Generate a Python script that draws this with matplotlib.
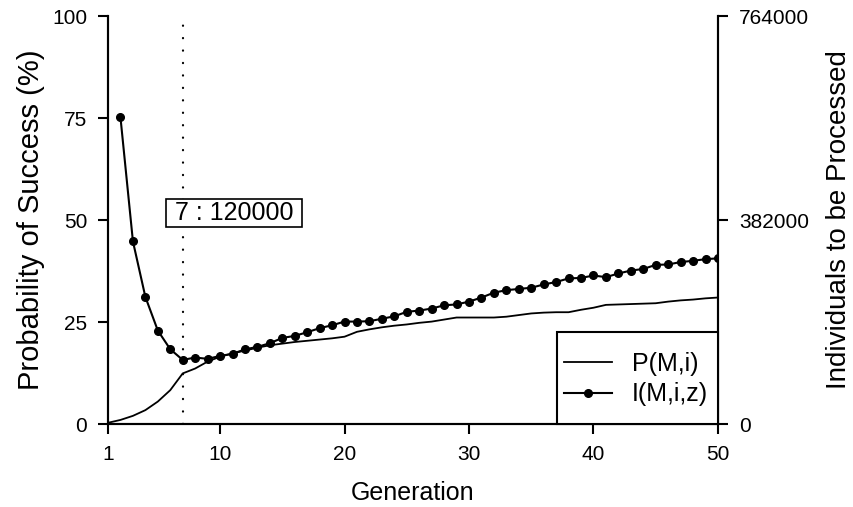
import matplotlib.pyplot as plt
from matplotlib.patches import Rectangle
from matplotlib.lines import Line2D

plt.rcParams["font.family"] = ["Liberation Sans", "DejaVu Sans"]

gen_p = list(range(1, 51))
p_success = [0.3, 1.0, 2.0, 3.4, 5.5, 8.3, 12.4, 13.6, 15.3, 16.5,
             17.3, 18.0, 18.7, 19.3, 19.7, 20.1, 20.4, 20.7, 21.0, 21.4,
             22.6, 23.2, 23.7, 24.1, 24.4, 24.8, 25.1, 25.6, 26.1, 26.1,
             26.1, 26.1, 26.3, 26.7, 27.1, 27.3, 27.4, 27.4, 28.0, 28.5,
             29.2, 29.3, 29.4, 29.5, 29.6, 30.0, 30.3, 30.5, 30.8, 31.0]

gen_i = list(range(2, 51))
individuals = [574000, 342000, 238000, 175000, 140000, 120000, 124500, 122000, 127500,
               131400, 139800, 144400, 151300, 161200, 165000, 171900, 179500, 184900,
               191800, 191800, 192500, 197100, 201700, 210100, 212400, 216200, 222300,
               223900, 229200, 236800, 246000, 250600, 252900, 255200, 261300, 265900,
               272700, 273500, 278100, 275000, 281900, 287300, 290300, 298000, 298700,
               303300, 305600, 308700, 310200]

best_gen = 7
best_ind = 120000

fig = plt.figure(figsize=(8.54, 5.07), dpi=100)
ax = fig.add_axes([0.1265, 0.1637, 0.7142, 0.8047])
ax2 = ax.twinx()

ax.plot(gen_p, p_success, color="black", lw=1.3)
ax2.plot(gen_i, individuals, color="black", lw=1.5, marker="o", ms=5.5)

ax.axvline(best_gen, color="black", lw=1.6, linestyle=(0, (0.1, 5.5)),
           dash_capstyle="round")

ax.set_xlim(1, 50)
ax.set_ylim(0, 100)
ax2.set_ylim(0, 764000)
ax.set_xticks([1, 10, 20, 30, 40, 50])
ax.set_yticks([0, 25, 50, 75, 100])
ax2.set_yticks([0, 382000, 764000])
ax2.set_yticklabels(["0", "382000", "764000"])

for a in (ax, ax2):
    a.spines["top"].set_visible(False)
    for s in a.spines.values():
        s.set_linewidth(1.5)
    a.tick_params(labelsize=15, width=1.5, length=7, pad=8)

ax.set_xlabel("Generation", fontsize=18, labelpad=12)
ax.set_ylabel("Probability of Success (%)", fontsize=21, labelpad=5)
ax2.set_ylabel("Individuals to be Processed", fontsize=20, labelpad=12)

ax.text(11.1, 51.7, " %d : %d " % (best_gen, best_ind), fontsize=18,
        ha="center", va="center",
        bbox=dict(boxstyle="square,pad=0.08", fc="white", ec="black", lw=1.2))

# legend box in the lower right corner
ax2.add_patch(Rectangle((0.736, 0), 0.264, 0.2255, transform=ax2.transAxes,
                        fc="white", ec="black", lw=1.5, zorder=5, clip_on=False))
handles = [Line2D([], [], color="black", lw=1.3),
           Line2D([], [], color="black", lw=1.5, marker="o", ms=5.5)]
leg = ax2.legend(handles, ["P(M,i)", "I(M,i,z)"], frameon=False, fontsize=18,
                 loc="center", bbox_to_anchor=(0.866, 0.11), handlelength=1.9,
                 handletextpad=0.8, labelspacing=0.25)
leg.set_zorder(6)

fig.savefig("out.png", dpi=100)
